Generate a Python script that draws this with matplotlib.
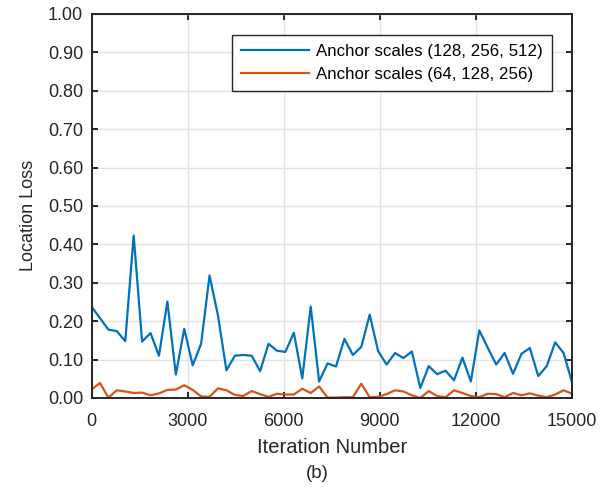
import numpy as np
import matplotlib.pyplot as plt
from matplotlib.ticker import FormatStrFormatter

# iteration numbers (58 samples between 0 and 15000)
iterations = [0, 263, 526, 789, 1053, 1316, 1579, 1842, 2105, 2368,
              2632, 2895, 3158, 3421, 3684, 3947, 4211, 4474, 4737, 5000,
              5263, 5526, 5789, 6053, 6316, 6579, 6842, 7105, 7368, 7632,
              7895, 8158, 8421, 8684, 8947, 9211, 9474, 9737, 10000, 10263,
              10526, 10789, 11053, 11316, 11579, 11842, 12105, 12368, 12632, 12895,
              13158, 13421, 13684, 13947, 14211, 14474, 14737, 15000]

loss_128_256_512 = [0.238, 0.208, 0.178, 0.174, 0.148, 0.423, 0.147, 0.169, 0.110, 0.251,
                    0.061, 0.180, 0.085, 0.141, 0.319, 0.215, 0.072, 0.110, 0.112, 0.110,
                    0.070, 0.141, 0.123, 0.120, 0.170, 0.051, 0.238, 0.043, 0.090, 0.082,
                    0.154, 0.112, 0.133, 0.217, 0.122, 0.087, 0.117, 0.104, 0.121, 0.026,
                    0.083, 0.062, 0.071, 0.046, 0.105, 0.043, 0.176, 0.131, 0.087, 0.117,
                    0.063, 0.115, 0.130, 0.057, 0.083, 0.145, 0.117, 0.041]

loss_64_128_256 = [0.022, 0.039, 0.001, 0.020, 0.017, 0.013, 0.014, 0.007, 0.012, 0.021,
                   0.022, 0.033, 0.021, 0.004, 0.003, 0.025, 0.020, 0.008, 0.005, 0.018,
                   0.010, 0.003, 0.011, 0.009, 0.009, 0.024, 0.013, 0.030, 0.001, 0.001,
                   0.002, 0.002, 0.037, 0.002, 0.003, 0.010, 0.020, 0.017, 0.007, 0.000,
                   0.018, 0.005, 0.002, 0.020, 0.013, 0.005, 0.002, 0.011, 0.010, 0.002,
                   0.013, 0.007, 0.012, 0.006, 0.002, 0.009, 0.020, 0.011]

series_labels = ["Anchor scales (128, 256, 512)", "Anchor scales (64, 128, 256)"]
x_ticks = [0, 3000, 6000, 9000, 12000, 15000]
y_ticks = [0.0, 0.1, 0.2, 0.3, 0.4, 0.5, 0.6, 0.7, 0.8, 0.9, 1.0]

plt.rcParams["font.family"] = ["Liberation Sans", "DejaVu Sans"]

fig = plt.figure(figsize=(6.11, 4.87), dpi=100)
ax = fig.add_axes([0.1498, 0.1828, 0.7864, 0.7885])

ax.plot(iterations, loss_128_256_512, color="#0072BD", lw=1.6,
        label=series_labels[0])
ax.plot(iterations, loss_64_128_256, color="#D95319", lw=1.6,
        label=series_labels[1])

ax.set_xlim(0, 15000)
ax.set_ylim(0, 1)
ax.set_xticks(x_ticks)
ax.set_yticks(y_ticks)
ax.yaxis.set_major_formatter(FormatStrFormatter("%.2f"))

ax.grid(True, color="#e3e3e3", lw=1.0)
ax.set_axisbelow(True)

for s in ax.spines.values():
    s.set_color("#262626")
    s.set_linewidth(1.4)

ax.tick_params(direction="in", length=4, width=1.4, colors="#262626",
               top=True, right=True, labelsize=13)
ax.tick_params(axis="x", pad=11)
ax.tick_params(axis="y", pad=6)

ax.set_xlabel("Iteration Number", fontsize=14.5, color="#262626")
ax.xaxis.set_label_coords(0.5, -0.130)
ax.xaxis.label.set_va("center")
ax.set_ylabel("Location Loss", fontsize=13, color="#262626")
ax.yaxis.set_label_coords(-0.131, 0.475)
ax.yaxis.label.set_va("center")

leg = ax.legend(loc="upper right", bbox_to_anchor=(0.958, 0.945),
                fontsize=12.2, handlelength=4, handletextpad=0.4,
                borderpad=0.55, labelspacing=0.45, fancybox=False,
                framealpha=1, edgecolor="#262626", borderaxespad=0)
leg.get_frame().set_linewidth(1.0)

fig.text(317 / 611, 1 - 474 / 487, "(b)", ha="center", va="center",
         fontsize=13.5, color="#262626")

plt.savefig("out.png", dpi=100)
plt.close(fig)
